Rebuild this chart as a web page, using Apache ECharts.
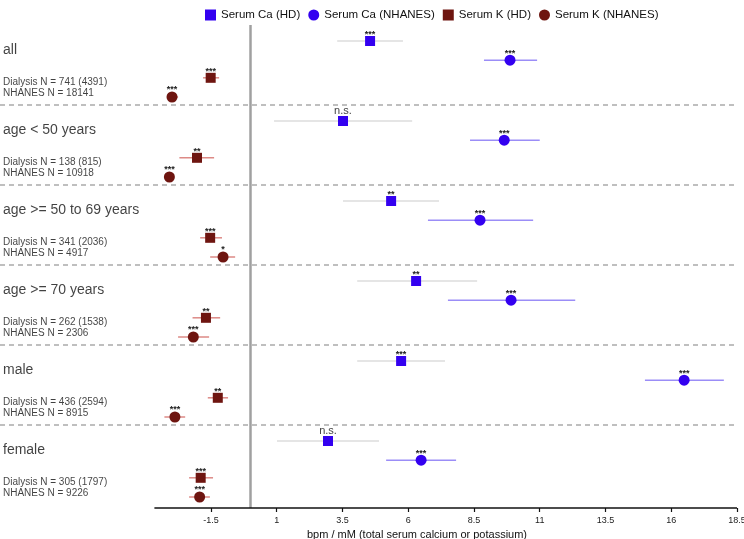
<!DOCTYPE html>
<html>
<head>
<meta charset="utf-8">
<script src="https://cdn.jsdelivr.net/npm/echarts@6/dist/echarts.min.js"></script>
<style>
  html, body { margin: 0; padding: 0; background: #fff; }
  #chart { width: 744px; height: 539px; }
</style>
</head>
<body>
<div id="chart"></div>
<script>
// 分组与样本量
var groups = ['all', 'age < 50 years', 'age >= 50 to 69 years', 'age >= 70 years', 'male', 'female'];
var dialysisN = [741, 138, 341, 262, 436, 305];
var dialysisObs = [4391, 815, 2036, 1538, 2594, 1797];
var nhanesN = [18141, 10918, 4917, 2306, 8915, 9226];

// Serum Ca (HD)
var caHD = [4.55, 3.52, 5.35, 6.3, 5.73, 2.95];
var caHDLo = [3.3, 0.9, 3.52, 4.06, 4.06, 1.01];
var caHDHi = [5.8, 6.15, 7.17, 8.62, 7.4, 4.89];
var caHDSig = ['***', 'n.s.', '**', '**', '***', 'n.s.'];

// Serum Ca (NHANES)
var caNH = [9.87, 9.65, 8.73, 9.91, 16.49, 6.49];
var caNHLo = [8.88, 8.35, 6.75, 7.51, 15.0, 5.16];
var caNHHi = [10.9, 11.0, 10.75, 12.35, 18.0, 7.82];
var caNHSig = ['***', '***', '***', '***', '***', '***'];

// Serum K (HD)
var kHD = [-1.51, -2.03, -1.53, -1.69, -1.24, -1.89];
var kHDLo = [-1.8, -2.7, -1.91, -2.2, -1.62, -2.33];
var kHDHi = [-1.19, -1.38, -1.08, -1.15, -0.85, -1.42];
var kHDSig = ['***', '**', '***', '**', '**', '***'];

// Serum K (NHANES)
var kNH = [-2.98, -3.08, -1.04, -2.17, -2.87, -1.93];
var kNHLo = [-3.17, -3.2, -1.53, -2.75, -3.27, -2.33];
var kNHHi = [-2.75, -2.95, -0.58, -1.57, -2.48, -1.54];
var kNHSig = ['***', '***', '*', '***', '***', '***'];

// x轴刻度
var tickValues = [-1.5, 1, 3.5, 6, 8.5, 11, 13.5, 16, 18.5];

var xMin = -9.52, xMax = 18.5, axisStart = -3.65;
var yMax = 6.0375;
// 每组内四行的位置
var rowOffset = [0.2, 0.44, 0.66, 0.9];

var myChart = echarts.init(document.getElementById('chart'));

function pointData(vals, sig, row) {
  return vals.map(function (v, i) { return { value: [v, i + rowOffset[row]], sig: sig[i] }; });
}
function ciData(lo, hi, row) {
  return lo.map(function (v, i) { return [v, hi[i], i + rowOffset[row]]; });
}

function ciSeries(name, lo, hi, row, color) {
  return {
    name: name,
    type: 'custom',
    silent: true,
    z: 1,
    data: ciData(lo, hi, row),
    encode: { x: [0, 1], y: 2 },
    renderItem: function (params, api) {
      var a = api.coord([api.value(0), api.value(2)]);
      var b = api.coord([api.value(1), api.value(2)]);
      return {
        type: 'line',
        shape: { x1: a[0], y1: a[1], x2: b[0], y2: b[1] },
        style: { stroke: color, lineWidth: 1.5 }
      };
    }
  };
}

function pointSeries(name, vals, sig, row, symbol, size, color) {
  var s = {
    name: name,
    type: 'scatter',
    symbol: symbol,
    symbolSize: size,
    z: 3,
    itemStyle: { color: color, opacity: 1 },
    data: pointData(vals, sig, row),
    label: {
      show: true,
      position: 'top',
      distance: -3,
      formatter: function (p) { return p.data.sig; },
      color: '#222',
      fontFamily: 'Liberation Sans',
      fontSize: 9,
      fontWeight: 'bold'
    }
  };
  // n.s. 标签字体不同
  s.data.forEach(function (d) {
    if (d.sig === 'n.s.') {
      d.label = { fontSize: 11, fontWeight: 'normal', color: '#444', distance: 0 };
    }
  });
  return s;
}

var textSeries = {
  name: 'groupText',
  type: 'scatter',
  symbolSize: 0,
  silent: true,
  data: [],
  z: 5
};
groups.forEach(function (g, i) {
  textSeries.data.push({
    value: [xMin, i + 0.31],
    label: { show: true, position: 'right', distance: 3, formatter: g, fontSize: 14, color: '#111', fontFamily: 'Liberation Sans' }
  });
  textSeries.data.push({
    value: [xMin, i + 0.71],
    label: { show: true, position: 'right', distance: 3, formatter: 'Dialysis N = ' + dialysisN[i] + ' (' + dialysisObs[i] + ')', fontSize: 10, color: '#111', fontFamily: 'Liberation Sans' }
  });
  textSeries.data.push({
    value: [xMin, i + 0.85],
    label: { show: true, position: 'right', distance: 3, formatter: 'NHANES N = ' + nhanesN[i], fontSize: 10, color: '#111', fontFamily: 'Liberation Sans' }
  });
});

// 组之间的虚线
var separators = groups.slice(1).map(function (g, i) {
  return { yAxis: i + 1, lineStyle: { color: '#aaa', type: [5, 4], width: 1.5 } };
});

var blue = '#3300f0';
var red = '#6e1510';

var option = {
  animation: false,
  backgroundColor: '#fff',
  textStyle: { fontFamily: 'Liberation Sans' },
  legend: {
    data: [
      { name: 'Serum Ca (HD)', icon: 'rect' },
      { name: 'Serum Ca (NHANES)', icon: 'circle' },
      { name: 'Serum K (HD)', icon: 'rect' },
      { name: 'Serum K (NHANES)', icon: 'circle' }
    ],
    top: 4,
    left: 200,
    itemWidth: 11,
    itemHeight: 11,
    itemGap: 8,
    textStyle: { fontSize: 11.5, color: '#111', fontFamily: 'Liberation Sans' }
  },
  grid: { left: 0, right: 7, top: 25, bottom: 31, outerBoundsMode: 'none' },
  xAxis: {
    type: 'value',
    position: 'bottom',
    min: xMin,
    max: xMax,
    axisLine: { show: false, onZero: false },
    splitLine: { show: false },
    axisTick: { show: true, customValues: tickValues, length: 4, lineStyle: { color: '#111', width: 1.2 } },
    axisLabel: { customValues: tickValues, fontSize: 9, color: '#222', margin: 8, formatter: function (v) { return String(v); } },
    name: 'bpm / mM (total serum calcium or potassium)',
    nameLocation: 'middle',
    nameGap: 21,
    nameTextStyle: { fontSize: 11, color: '#111', padding: [0, 0, 0, 97] }
  },
  yAxis: {
    type: 'value',
    min: 0,
    max: yMax,
    inverse: true,
    axisLine: { show: false },
    axisTick: { show: false },
    axisLabel: { show: false },
    splitLine: { show: false }
  },
  series: [
    ciSeries('ciCaHD', caHDLo, caHDHi, 0, '#dcdcdc'),
    ciSeries('ciCaNH', caNHLo, caNHHi, 1, '#9b8df7'),
    ciSeries('ciKHD', kHDLo, kHDHi, 2, '#dd8a86'),
    ciSeries('ciKNH', kNHLo, kNHHi, 3, '#dd8a86'),
    pointSeries('Serum Ca (HD)', caHD, caHDSig, 0, 'rect', 10, blue),
    pointSeries('Serum Ca (NHANES)', caNH, caNHSig, 1, 'circle', 11, blue),
    pointSeries('Serum K (HD)', kHD, kHDSig, 2, 'rect', 10, red),
    pointSeries('Serum K (NHANES)', kNH, kNHSig, 3, 'circle', 11, red),
    textSeries,
    {
      name: 'refLines',
      type: 'line',
      data: [],
      silent: true,
      markLine: {
        symbol: 'none',
        silent: true,
        label: { show: false },
        data: [
          { xAxis: 0, lineStyle: { color: '#a0a0a0', width: 2.5, type: 'solid' } },
          [
            { coord: [axisStart, yMax], lineStyle: { color: '#111', width: 1.5, type: 'solid' } },
            { coord: [xMax, yMax] }
          ]
        ].concat(separators)
      }
    }
  ]
};

myChart.setOption(option);
</script>
</body>
</html>
